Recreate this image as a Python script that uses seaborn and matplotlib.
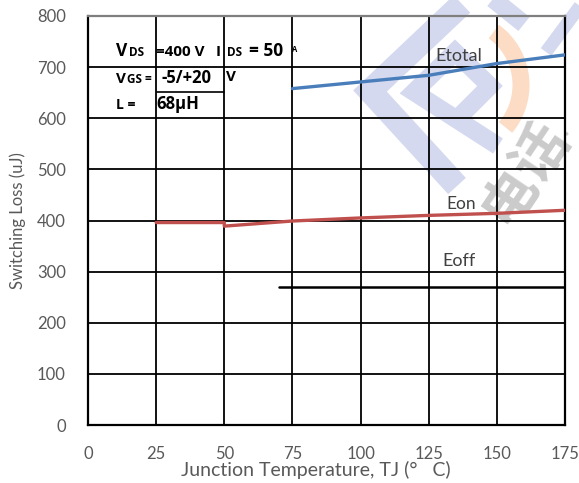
import numpy as np
import pandas as pd
import matplotlib
matplotlib.use("Agg")
import matplotlib.pyplot as plt
from matplotlib.lines import Line2D
import seaborn as sns

# ---- data -------------------------------------------------------------
temp_etotal = [75, 100, 125, 150, 175]
etotal = [658, 671, 684, 707, 724]

temp_eon = [25, 50, 50, 75, 100, 125, 150, 175]
eon = [396, 396, 389, 399, 405, 410, 414, 420]

temp_eoff = [70, 175]
eoff = [270, 270]

x_ticks = [0, 25, 50, 75, 100, 125, 150, 175]
y_ticks = [0, 100, 200, 300, 400, 500, 600, 700, 800]

# ---- figure -----------------------------------------------------------
sns.set_theme(style="white")
plt.rcParams["font.family"] = ["Lato", "DejaVu Sans"]

W, H = 579, 483
fig = plt.figure(figsize=(W / 100, H / 100), dpi=100)
fig.patch.set_facecolor("white")


def P(px, py):
    """pixel position (from top-left) -> figure fraction"""
    return px / W, 1 - py / H


# background logo watermark (drawn on the figure, behind the axes content)
blue = "#d4d9ef"
def band(pts, width, color, z=0.5):
    xs, ys = zip(*[P(*p) for p in pts])
    fig.add_artist(Line2D(xs, ys, transform=fig.transFigure, color=color,
                          lw=width * 0.72, solid_capstyle="butt",
                          solid_joinstyle="miter", zorder=z))

band([(457, 186), (370, 91), (462, 4)], 24, blue)
band([(498, 146), (414, 92), (455, 52), (490, 86), (458, 118)], 18, blue)
band([(488, -5), (524, 24)], 18, blue)
band([(583, 2), (546, 52)], 13, blue)

ang = np.radians(np.linspace(-40, 54, 60))
arc = [(455 + 66 * np.cos(a), 85 - 66 * np.sin(a)) for a in ang]
band(arc, 17, "#fcdcc4")

for ch, (cx, cy), fs in [("电", (510, 196), 40), ("话", (541, 153), 40),
                         ("•", (567, 130), 10)]:
    fx, fy = P(cx, cy)
    fig.text(fx, fy, ch, family=["Noto Sans CJK SC", "DejaVu Sans"],
             fontsize=fs, fontweight="bold", color="#cbcbcb", rotation=56,
             ha="center", va="center", zorder=0.6)

# ---- axes -------------------------------------------------------------
ax = fig.add_axes([88 / W, 1 - 425 / H, (565 - 88) / W, (425 - 16) / H])
ax.set_facecolor("none")
ax.set_zorder(1)

sns.lineplot(x=temp_etotal, y=etotal, ax=ax, color="#4a7ebb", lw=2.4,
             estimator=None, sort=False, zorder=4)
sns.lineplot(x=temp_eon, y=eon, ax=ax, color="#c0504d", lw=2.4,
             estimator=None, sort=False, zorder=4)
sns.lineplot(x=temp_eoff, y=eoff, ax=ax, color="black", lw=1.8,
             estimator=None, sort=False, zorder=4)

ax.set_xlim(0, 175)
ax.set_ylim(0, 800)
ax.set_xticks(x_ticks)
ax.set_yticks(y_ticks)
ax.grid(True, color="black", lw=1.3)
ax.set_axisbelow(True)
for side, sp in ax.spines.items():
    sp.set_visible(True)
    sp.set_color("black")
    sp.set_linewidth(1.6)
ax.spines["top"].set_color("#7f7f7f")
ax.tick_params(axis="both", length=0, labelsize=12, labelcolor="#595959")
ax.tick_params(axis="x", pad=15)
ax.tick_params(axis="y", pad=16)

ax.set_xlabel("Junction Temperature, TJ (°   C)", fontsize=14,
              color="#595959", labelpad=-1)
ax.xaxis.label.set_x(0.477)
ax.set_ylabel("Switching Loss (uJ)", fontsize=12, color="#595959",
              labelpad=8)

# curve names
ax.text(136, 722, "Etotal", fontsize=13, color="#404040", ha="center", va="center", zorder=5)
ax.text(137, 432, "Eon", fontsize=12.5, color="#404040", ha="center", va="center", zorder=5)
ax.text(136, 321, "Eoff", fontsize=13, color="#404040", ha="center", va="center", zorder=5)

# test conditions block
def t(px, py, s, size):
    fx, fy = P(px, py)
    fig.text(fx, fy, s, fontsize=size, fontweight="bold", color="black",
             ha="left", va="baseline", zorder=6,
             family=["Open Sans", "DejaVu Sans"])

t(116, 56, "V", 12.5)
t(129, 56, "DS", 8.5)
t(156, 56, "=400 V", 11)
t(216, 56, "I", 11)
t(227, 56, "DS", 8.5)
t(249, 56, "= 50", 12.5)
t(292, 52, "A", 5.5)
t(116, 83, "V", 11)
t(127, 83, "GS =", 8.5)
t(161, 83, "-5/+20", 12)
t(226, 81, "V", 11)
t(116, 109, "L =", 10)
t(156, 109, "68μH", 12)

x0, y0 = P(157, 92)
x1, _ = P(224, 92)
fig.add_artist(Line2D([x0, x1], [y0, y0], transform=fig.transFigure,
                      color="black", lw=1.2, zorder=6))

fig.savefig("out.png", dpi=100)
